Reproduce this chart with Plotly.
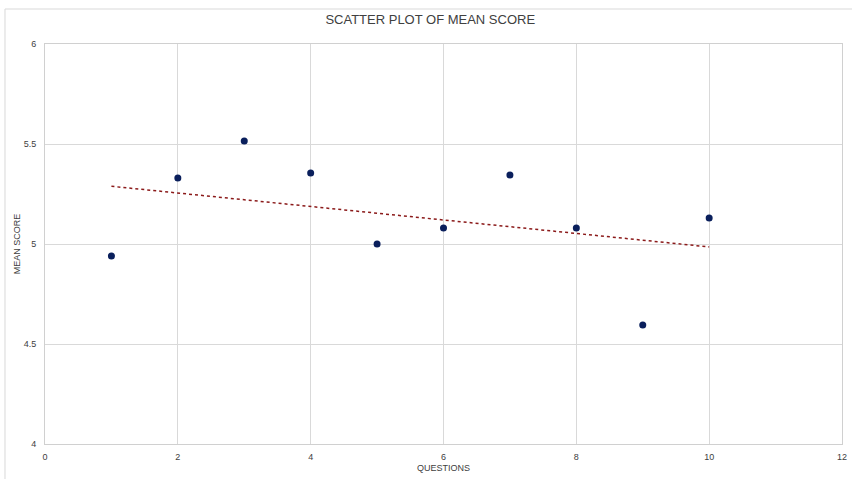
import numpy as np
import plotly.graph_objects as go

questions = [1, 2, 3, 4, 5, 6, 7, 8, 9, 10]
mean_scores = [4.94, 5.33, 5.515, 5.355, 5.0, 5.08, 5.345, 5.08, 4.595, 5.13]

slope, intercept = np.polyfit(questions, mean_scores, 1)
trend_x = [questions[0], questions[-1]]
trend_y = [slope * x + intercept for x in trend_x]

fig = go.Figure()
fig.add_trace(go.Scatter(
    x=trend_x, y=trend_y, mode="lines",
    line=dict(color="#8B1A1A", width=1.5, dash="dot"),
    hoverinfo="skip", showlegend=False))
fig.add_trace(go.Scatter(
    x=questions, y=mean_scores, mode="markers",
    marker=dict(color="#0A1F5C", size=7),
    showlegend=False))

axis_common = dict(showgrid=True, gridcolor="#D9D9D9", gridwidth=1,
                   zeroline=False, showline=True, mirror=True, linecolor="#D0D0D0",
                   linewidth=1, automargin=False,
                   ticks="outside", tickcolor="rgba(0,0,0,0)",
                   tickfont=dict(family="Liberation Sans, Arial", size=9, color="#404040"))

fig.update_layout(
    width=852, height=479,
    margin=dict(l=45, r=10, t=44, b=35),
    paper_bgcolor="white", plot_bgcolor="white",
    title=dict(text="SCATTER PLOT OF MEAN SCORE", x=0.505, xanchor="center",
               y=0.96, yanchor="middle",
               font=dict(family="Liberation Sans, Arial", size=13, color="#404040")),
    xaxis=dict(range=[0, 12], tickvals=[0, 2, 4, 6, 8, 10, 12], ticklen=4,
               title=dict(text="QUESTIONS", standoff=3,
                          font=dict(family="Liberation Sans, Arial", size=9, color="#404040")),
               **axis_common),
    yaxis=dict(range=[4, 6], tickvals=[4, 4.5, 5, 5.5, 6], ticklen=6,
               title=dict(text="MEAN SCORE", standoff=1,
                          font=dict(family="Liberation Sans, Arial", size=9, color="#404040")),
               **axis_common),
    shapes=[
        dict(type="line", xref="paper", yref="paper", x0=-0.0502, x1=-0.0502,
             y0=-0.09, y1=1.0875, line=dict(color="#D9D9D9", width=1)),
        dict(type="line", xref="paper", yref="paper", x0=-0.0502, x1=1.02,
             y0=1.0875, y1=1.0875, line=dict(color="#D9D9D9", width=1)),
    ],
)

fig.write_html("out.html")
